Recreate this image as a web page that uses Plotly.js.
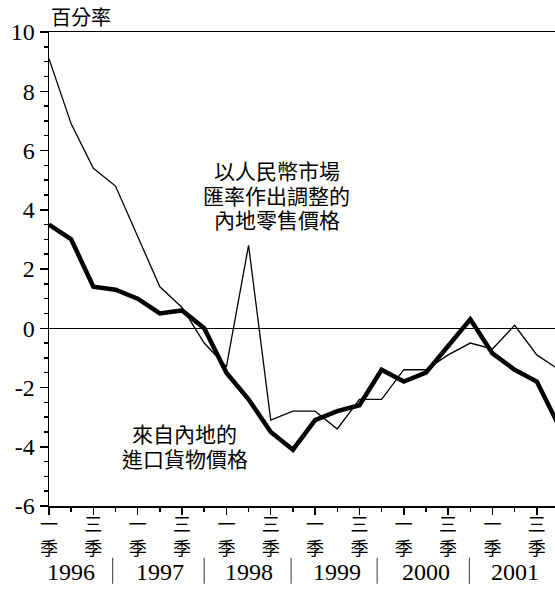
<!DOCTYPE html>
<html>
<head>
<meta charset="utf-8">
<script src="https://cdn.plot.ly/plotly-3.0.1.min.js"></script>
<style>html,body{margin:0;padding:0;background:#fff;}#chart{width:555px;height:589px;}</style>
</head>
<body>
<div id="chart"></div>
<script>
// ---- data ----
const quarters = ['1996Q1','1996Q2','1996Q3','1996Q4','1997Q1','1997Q2','1997Q3','1997Q4',
                  '1998Q1','1998Q2','1998Q3','1998Q4','1999Q1','1999Q2','1999Q3','1999Q4',
                  '2000Q1','2000Q2','2000Q3','2000Q4','2001Q1','2001Q2','2001Q3','2001Q4'];
const retailAdjusted = [9.1, 6.9, 5.4, 4.8, 3.1, 1.4, 0.7, -0.5, -1.3, 2.8, -3.1, -2.8,
                        -2.8, -3.4, -2.4, -2.4, -1.4, -1.4, -0.9, -0.5, -0.7, 0.1, -0.9, -1.4];
const importPrices   = [3.5, 3.0, 1.4, 1.3, 1.0, 0.5, 0.6, 0.0, -1.5, -2.4, -3.5, -4.1,
                        -3.1, -2.8, -2.6, -1.4, -1.8, -1.5, -0.6, 0.3, -0.85, -1.4, -1.8, -3.3];
const years = ['1996','1997','1998','1999','2000','2001'];
const quarterTickText = ['一<br>季','三<br>季'];
const yTickVals = [-6,-4,-2,0,2,4,6,8,10];
const yTickText = ['-6','-4','-2','0','2','4','6','8','10'];
const retailLabel = ['以人民幣市場','匯率作出調整的','內地零售價格'];
const importLabel = ['來自內地的','進口貨物價格'];
const yUnit = '百分率';

// ---- build ----
const xIdx = quarters.map((q, i) => i);
const xTickVals = [], xTickText = [];
quarters.forEach((q, i) => {
  if (q.endsWith('Q1')) { xTickVals.push(i); xTickText.push(quarterTickText[0]); }
  if (q.endsWith('Q3')) { xTickVals.push(i); xTickText.push(quarterTickText[1]); }
});

const traces = [
  {x: xIdx, y: retailAdjusted, mode: 'lines', line: {color: '#000', width: 1.3}, hoverinfo: 'skip'},
  {x: xIdx, y: importPrices, mode: 'lines', line: {color: '#000', width: 4.5}, hoverinfo: 'skip'}
];

const cjk = 'Noto Sans CJK TC';
const serif = 'Liberation Serif, Tinos, Times New Roman, Times, serif';

const annotations = [];
annotations.push({xref: 'paper', yref: 'paper', x: 0.064, y: 1.032, xanchor: 'center', yanchor: 'middle',
  text: yUnit, showarrow: false, font: {family: cjk, size: 20, color: '#000'}});
const retailLineY = [5.34, 4.49, 3.68];
retailLabel.forEach((t, k) => annotations.push({xref: 'x', yref: 'y', x: 10.28, y: retailLineY[k],
  xanchor: 'center', yanchor: 'middle', text: t, showarrow: false, font: {family: cjk, size: 21, color: '#000'}}));
const importLineY = [-3.55, -4.39];
importLabel.forEach((t, k) => annotations.push({xref: 'x', yref: 'y', x: 6.13, y: importLineY[k],
  xanchor: 'center', yanchor: 'middle', text: t, showarrow: false, font: {family: cjk, size: 21, color: '#000'}}));
years.forEach((yr, k) => annotations.push({xref: 'x', yref: 'paper', x: 1 + 4 * k, y: -0.139,
  xanchor: 'center', yanchor: 'middle', text: yr, showarrow: false, font: {family: serif, size: 24, color: '#000'}}));

const sepX = [2.87, 7.0, 10.92, 14.8, 18.96];
const shapes = sepX.map(sx => ({type: 'line', xref: 'x', yref: 'paper', x0: sx, x1: sx,
  y0: -0.109, y1: -0.164, line: {color: '#555', width: 1.2}}));

const layout = {
  width: 555, height: 589,
  margin: {l: 49, r: 0, t: 32, b: 83, pad: 0},
  paper_bgcolor: '#fff', plot_bgcolor: '#fff',
  showlegend: false,
  font: {family: serif},
  xaxis: {
    range: [0, 22.82], tickmode: 'array', tickvals: xTickVals, ticktext: xTickText,
    ticks: 'outside', ticklen: 7, tickwidth: 1.5, tickcolor: '#000',
    ticklabelstandoff: -5,
    showline: true, linewidth: 1.5, linecolor: '#000', mirror: true,
    showgrid: false, zeroline: false,
    tickfont: {family: cjk, size: 18, color: '#000'},
    minor: {tickmode: 'linear', tick0: 0, dtick: 1, ticks: 'outside', ticklen: 4, tickwidth: 1.5, tickcolor: '#000', showgrid: false}
  },
  yaxis: {
    range: [-6, 10], tickmode: 'array', tickvals: yTickVals, ticktext: yTickText,
    ticks: 'outside', ticklen: 8, tickwidth: 1.5, tickcolor: '#000',
    showline: true, linewidth: 1.5, linecolor: '#000',
    showgrid: false, zeroline: true, zerolinecolor: '#000', zerolinewidth: 1.5,
    tickfont: {family: serif, size: 24, color: '#000'},
    minor: {tickmode: 'linear', tick0: 0, dtick: 0.5, ticks: 'outside', ticklen: 4, tickwidth: 1.5, tickcolor: '#000', showgrid: false}
  },
  annotations: annotations,
  shapes: shapes
};

Plotly.newPlot('chart', traces, layout, {displayModeBar: false, staticPlot: true});
</script>
</body>
</html>
